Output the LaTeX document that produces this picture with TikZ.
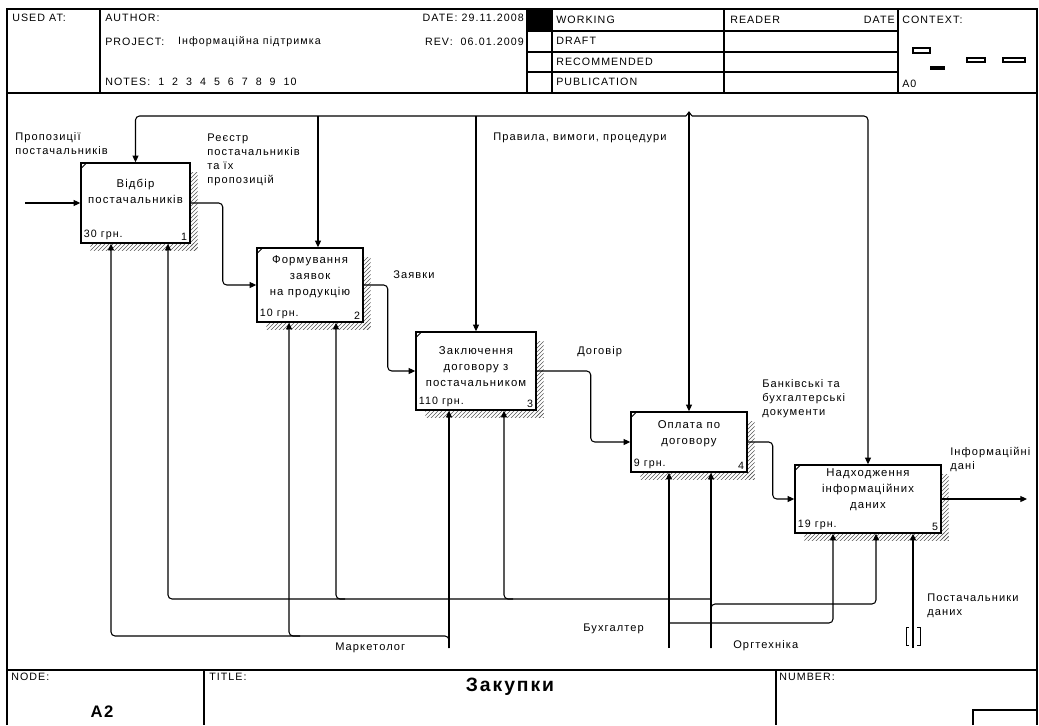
\documentclass[tikz,border=0pt]{standalone}
\usepackage{fontspec}
\setmainfont{Liberation Sans}[LetterSpace=10.0]
\usetikzlibrary{arrows.meta,positioning,calc,patterns,backgrounds}
\tikzstyle{activity} = [rectangle, draw, line width=1.1pt, inner sep=0pt, fill=white]
\tikzstyle{atext} = [align=center, font=\fontsize{8.5}{12}\selectfont, inner sep=0pt]
\tikzstyle{cost} = [font=\fontsize{8}{10}\selectfont, inner sep=2.5pt]
\tikzstyle{arrow} = [-{Triangle[length=5pt,width=4.5pt]}, line width=0.8pt, rounded corners=3pt]
\tikzstyle{line} = [line width=0.8pt]
\tikzstyle{lbl} = [font=\fontsize{8.3}{10.5}\selectfont, align=left, inner sep=0pt]
\tikzstyle{frame} = [line width=1pt]
\tikzstyle{head} = [font=\fontsize{8}{10}\selectfont, inner sep=0pt, anchor=west]
\tikzstyle{shade} = [pattern=north east lines, pattern color=black!65]

\begin{document}
\begin{tikzpicture}[x=0.75pt, y=-0.75pt]
\useasboundingbox (0,0) rectangle (1039,725);

% header
\draw[frame] (7,725) -- (7,9) -- (1037,9) -- (1037,725);
\draw[frame] (7,93) -- (1037,93);
\foreach \x in {100,527,552,724,898} \draw[frame] (\x,9) -- (\x,93);
\foreach \y in {31,52,72} \draw[frame] (527,\y) -- (898,\y);
\fill (527,9) rectangle (552,31);
\node[head] (usedat) at (12,18) {USED AT:};
\node[head] (author) at (105,18) {AUTHOR:};
\node[head] (project) at (105,42) {PROJECT:};
\node[head, right=10pt of project] (projname) {Інформаційна підтримка};
\node[head] (notes) at (105,82) {NOTES:\hspace{6pt}1\hspace{6pt}2\hspace{6pt}3\hspace{6pt}4\hspace{6pt}5\hspace{6pt}6\hspace{6pt}7\hspace{6pt}8\hspace{6pt}9\hspace{6pt}10};
\node[head, anchor=east] (date) at (524,18) {DATE: 29.11.2008};
\node[head, anchor=east] (rev) at (524,42) {REV:\hspace{6pt}06.01.2009};
\node[head] (working) at (556,20) {WORKING};
\node[head] (draft) at (556,41) {DRAFT};
\node[head] (recom) at (556,62) {RECOMMENDED};
\node[head] (public) at (556,82) {PUBLICATION};
\node[head] (reader) at (730,20) {READER};
\node[head, anchor=east] (rdate) at (895,20) {DATE};
\node[head] (context) at (902,20) {CONTEXT:};
\node[head] (ctxnode) at (902,84) {A0};
\draw[line width=0.8pt] (913,48) rectangle (930,53);
\fill (930,66) rectangle (945,70);
\draw[line width=0.8pt] (967,58) rectangle (985,62);
\draw[line width=0.8pt] (1003,58) rectangle (1025,62);

% footer
\draw[frame] (7,670) -- (1037,670);
\draw[frame] (204,670) -- (204,725);
\draw[frame] (776,670) -- (776,725);
\draw[frame] (973,725) -- (973,710) -- (1037,710);
\node[head] (nodelbl) at (11,677) {NODE:};
\node[head] (titlelbl) at (209,677) {TITLE:};
\node[head] (numlbl) at (779,677) {NUMBER:};
\node[font=\fontsize{12.5}{14}\selectfont\bfseries] (nodeid) at (102,712) {A2};
\node[font=\fontsize{14.5}{16}\selectfont\bfseries] (title) at (510,687) {Закупки};

% activities
\node[activity, minimum width=109*0.75pt, minimum height=80*0.75pt] (b1) at (135.5,203) {};
\node[activity, minimum width=106*0.75pt, minimum height=74*0.75pt] (b2) at (310,285) {};
\node[activity, minimum width=120*0.75pt, minimum height=78*0.75pt] (b3) at (476,371) {};
\node[activity, minimum width=116*0.75pt, minimum height=60*0.75pt] (b4) at (689,442) {};
\node[activity, minimum width=146*0.75pt, minimum height=68*0.75pt] (b5) at (868,499) {};

\begin{scope}[on background layer]
\foreach \b in {b1,b2,b3,b4,b5} {
  \fill[shade] ($(\b.north east)+(0,10)$) rectangle ($(\b.south east)+(7,7)$);
  \fill[shade] ($(\b.south west)+(10,0)$) rectangle ($(\b.south east)+(7,7)$);
}
\end{scope}
\foreach \b in {b1,b2,b3,b4,b5}
  \draw[line width=0.6pt] ($(\b.north west)+(1,6)$) -- ($(\b.north west)+(6,1)$);

\node[atext] (t1) at ($(b1.center)+(0,-12)$) {Відбір\\постачальників};
\node[atext] (t2) at ($(b2.center)+(0,-8)$) {Формування\\заявок\\на продукцію};
\node[atext] (t3) at ($(b3.center)+(0,-4)$) {Заключення\\договору з\\постачальником};
\node[atext] (t4) at ($(b4.center)+(0,-8)$) {Оплата по\\договору};
\node[atext] (t5) at ($(b5.center)+(0,-9)$) {Надходження\\інформаційних\\даних};

\node[cost, anchor=south west] (c1) at (b1.south west) {30 грн.};
\node[cost, anchor=south east] (n1) at (b1.south east) {1};
\node[cost, anchor=south west] (c2) at (b2.south west) {10 грн.};
\node[cost, anchor=south east] (n2) at (b2.south east) {2};
\node[cost, anchor=south west] (c3) at (b3.south west) {110 грн.};
\node[cost, anchor=south east] (n3) at (b3.south east) {3};
\node[cost, anchor=south west] (c4) at (b4.south west) {9 грн.};
\node[cost, anchor=south east] (n4) at (b4.south east) {4};
\node[cost, anchor=south west] (c5) at (b5.south west) {19 грн.};
\node[cost, anchor=south east] (n5) at (b5.south east) {5};

% inputs and outputs
\coordinate (src) at (25,203);
\coordinate (out) at (1027,499);
\draw[arrow] (src) -- (b1.west);
\draw[arrow] (b1.east) -- ++(32,0) |- (b2.west);
\draw[arrow] (b2.east) -- ++(24,0) |- (b3.west);
\draw[arrow] (b3.east) -- ++(54,0) |- (b4.west);
\draw[arrow] (b4.east) -- ++(25,0) |- (b5.west);
\draw[arrow] (b5.east) -- (out);

% controls
\coordinate (bus) at (0,116);
\coordinate (tun) at (689,112);
\draw[arrow] (tun) -- (b4.north);
\draw[line] ($(b4.north |- bus)+(-3,0)$) -- (tun) -- ($(b4.north |- bus)+(3,0)$);
\draw[arrow] ($(b4.north |- bus)+(-3,0)$) -- (b1.north |- bus) -- (b1.north);
\draw[arrow] ($(b4.north |- bus)+(3,0)$) -- (b5.north |- bus) -- (b5.north);
\draw[arrow] ($(b2.north |- bus)+(8,0)$) -- ($(b2.north)+(8,0)$);
\draw[arrow] (b3.north |- bus) -- (b3.north);

% mechanisms
\coordinate (mark) at (449,648);
\coordinate (buh) at (669,648);
\coordinate (org) at (711,648);
\coordinate (post) at (913,648);
\draw[arrow] (mark) -- (449,0 |- b3.south);
\draw[arrow] (mark) -- (449,636) -- (111,636) -- (111,0 |- b1.south);
\draw[arrow] (300,636) -- (289,636) -- (289,0 |- b2.south);
\draw[arrow] (org) -- (711,0 |- b4.south);
\draw[arrow] (org) -- (711,604) -- (876,604) -- (876,0 |- b5.south);
\draw[arrow] (711,599) -- (168,599) -- (168,0 |- b1.south);
\draw[arrow] (345,599) -- (336,599) -- (336,0 |- b2.south);
\draw[arrow] (513,599) -- (504,599) -- (504,0 |- b3.south);
\draw[arrow] (buh) -- (669,0 |- b4.south);
\draw[arrow] (669,623) -- (833,623) -- (833,0 |- b5.south);
\draw[arrow] (post) -- (913,0 |- b5.south);
\draw[line width=0.6pt] (909,627) -- (906,627) -- (906,645) -- (909,645);
\draw[line width=0.6pt] (917,627) -- (920,627) -- (920,645) -- (917,645);

% labels
\node[lbl, anchor=north west] (l1) at (15,132) {Пропозиції\\постачальників};
\node[lbl, anchor=north west] (l2) at (207,134) {Реєстр\\постачальників\\та їх\\пропозицій};
\node[lbl, anchor=west] (l3) at (393,275) {Заявки};
\node[lbl, anchor=west] (l4) at (577,352) {Договір};
\node[lbl, anchor=north west] (l5) at (762,379) {Банківські та\\бухгалтерські\\документи};
\node[lbl, anchor=north west] (l6) at (950,447) {Інформаційні\\дані};
\node[lbl, anchor=west] (l7) at (493,138) {Правила, вимоги, процедури};
\node[lbl, anchor=west] (l8) at (335,648) {Маркетолог};
\node[lbl, anchor=west] (l9) at (583,629) {Бухгалтер};
\node[lbl, anchor=west] (l10) at (733,646) {Оргтехніка};
\node[lbl, anchor=north west] (l11) at (927,594) {Постачальники\\даних};
\end{tikzpicture}
\end{document}
